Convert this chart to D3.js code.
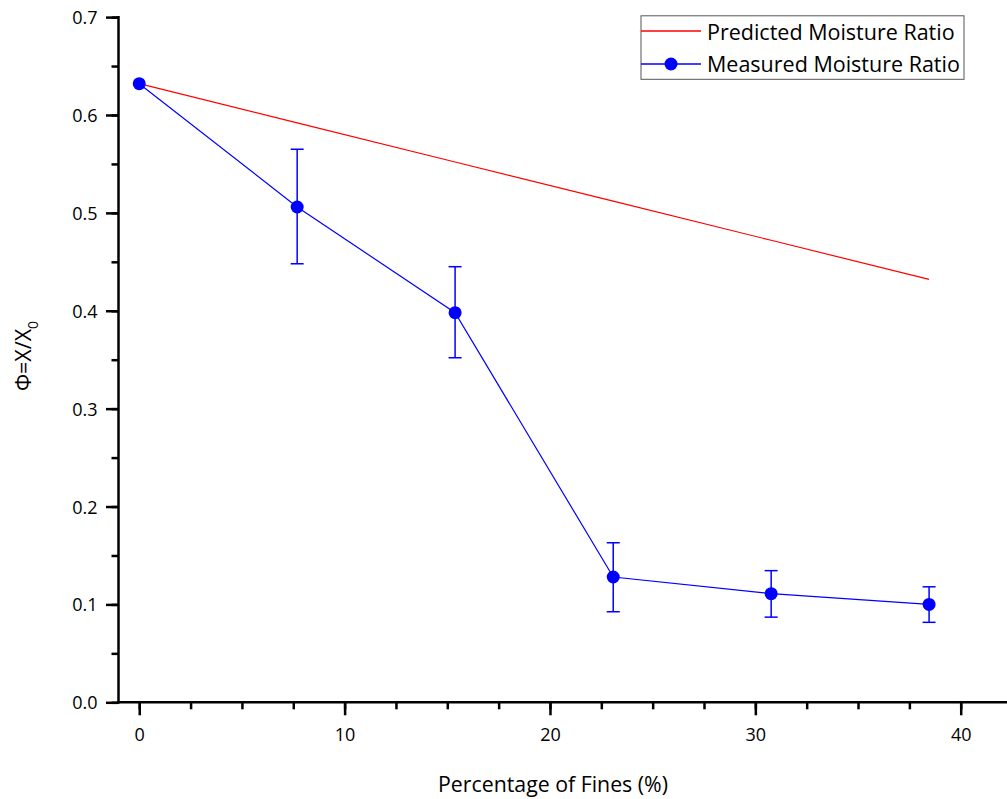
<!DOCTYPE html>
<html>
<head>
<meta charset="utf-8">
<script src="https://cdn.jsdelivr.net/npm/d3@7/dist/d3.min.js"></script>
<style>
  html, body { margin: 0; padding: 0; background: #fff; }
  svg { display: block; font-family: "Open Sans", "Liberation Sans", sans-serif; }
</style>
</head>
<body>
<svg id="chart" width="1007" height="799"></svg>
<script>
// Fines content (%) of each sample
const fines = [0, 7.69, 15.38, 23.08, 30.77, 38.46];
// Predicted moisture ratio (model)
const predicted = [0.632, 0.592, 0.552, 0.512, 0.472, 0.432];
// Measured moisture ratio with error bar limits
const measured = [0.632, 0.506, 0.398, 0.128, 0.111, 0.100];
const errHigh = [0.632, 0.565, 0.445, 0.163, 0.1345, 0.118];
const errLow = [0.632, 0.448, 0.352, 0.0925, 0.087, 0.0817];
// Axis ticks
const xTicks = [0, 10, 20, 30, 40];
const yTicks = [0.0, 0.1, 0.2, 0.3, 0.4, 0.5, 0.6, 0.7];
const seriesNames = ["Predicted Moisture Ratio", "Measured Moisture Ratio"];

const svg = d3.select("#chart");
const plotLeft = 118.5, plotBottom = 702.3, plotTop = 17.1, plotRight = 1010;

const x = d3.scaleLinear().domain([-1.01, 42.4]).range([plotLeft, plotRight]);
const y = d3.scaleLinear().domain([0, 0.7]).range([plotBottom, plotTop]);

const axisColor = "#000";

// X axis: minor ticks every 2.5, labelled majors every 10
const gx = svg.append("g").attr("transform", `translate(0,${plotBottom})`);
gx.call(d3.axisBottom(x).tickValues(d3.range(0, 42.5, 2.5)).tickSize(7).tickFormat(""))
gx.call(g => g.select(".domain").remove());
gx.append("g").call(d3.axisBottom(x).tickValues(xTicks).tickSize(13).tickFormat(d3.format("d")))
  .call(g => g.select(".domain").remove())
  .call(g => g.selectAll("text").attr("dy", null).attr("y", 38.5).attr("font-size", 18).attr("fill", "#000").attr("font-family", "Open Sans"));
gx.selectAll("line").attr("stroke", axisColor).attr("stroke-width", 2.5);
gx.append("line").attr("x1", plotLeft - 1.2).attr("x2", plotRight).attr("y1", 0).attr("y2", 0)
  .attr("stroke", axisColor).attr("stroke-width", 2.5);

// Y axis: minor ticks every 0.05
const gy = svg.append("g").attr("transform", `translate(${plotLeft},0)`);
gy.call(d3.axisLeft(y).tickValues(d3.range(0, 0.701, 0.05)).tickSize(7).tickFormat(""))
  .call(g => g.select(".domain").remove());
gy.append("g").call(d3.axisLeft(y).tickValues(yTicks).tickSize(12.5).tickFormat(d3.format(".1f")))
  .call(g => g.select(".domain").remove())
  .call(g => g.selectAll("text").attr("x", -21).attr("dy", "0.36em").attr("font-size", 18).attr("fill", "#000").attr("font-family", "Open Sans"));
gy.selectAll("line").attr("stroke", axisColor).attr("stroke-width", 2.5);
gy.append("line").attr("x1", 0).attr("x2", 0).attr("y1", y(0.7) - 1.2).attr("y2", plotBottom + 1.2)
  .attr("stroke", axisColor).attr("stroke-width", 2.5);

// Axis titles
svg.append("text").attr("x", 553).attr("y", 792).attr("text-anchor", "middle")
  .attr("font-size", 21.3).attr("fill", "#000").text("Percentage of Fines (%)");

const yt = svg.append("text").attr("transform", "translate(31,356) rotate(-90)")
  .attr("text-anchor", "middle").attr("font-size", 21.5).attr("fill", "#000");
yt.append("tspan").text("Φ=X/X");
yt.append("tspan").attr("font-size", 14).attr("dy", 7).text("0");

// Predicted line
const line = d3.line().x((d, i) => x(fines[i])).y(d => y(d));
svg.append("path").datum(predicted).attr("d", line)
  .attr("fill", "none").attr("stroke", "#ff0000").attr("stroke-width", 1.2);

// Measured line
svg.append("path").datum(measured).attr("d", line)
  .attr("fill", "none").attr("stroke", "#0000ff").attr("stroke-width", 1.2);

// Error bars
const eb = svg.append("g").attr("stroke", "#0000ff").attr("stroke-width", 1.5);
fines.forEach((f, i) => {
  if (errHigh[i] === errLow[i]) return;
  const cx = x(f);
  eb.append("line").attr("x1", cx).attr("x2", cx).attr("y1", y(errHigh[i])).attr("y2", y(errLow[i]));
  eb.append("line").attr("x1", cx - 6.5).attr("x2", cx + 6.5).attr("y1", y(errHigh[i])).attr("y2", y(errHigh[i]));
  eb.append("line").attr("x1", cx - 6.5).attr("x2", cx + 6.5).attr("y1", y(errLow[i])).attr("y2", y(errLow[i]));
});

// Markers
svg.append("g").selectAll("circle").data(measured).join("circle")
  .attr("cx", (d, i) => x(fines[i])).attr("cy", d => y(d)).attr("r", 6.5)
  .attr("fill", "#0000ff");

// Legend
const lg = svg.append("g");
lg.append("rect").attr("x", 641).attr("y", 15.8).attr("width", 323).attr("height", 63.5)
  .attr("fill", "#fff").attr("stroke", "#555").attr("stroke-width", 1);
lg.append("line").attr("x1", 641).attr("x2", 701).attr("y1", 31).attr("y2", 31)
  .attr("stroke", "#ff0000").attr("stroke-width", 1.3);
lg.append("line").attr("x1", 641).attr("x2", 701).attr("y1", 64).attr("y2", 64)
  .attr("stroke", "#0000ff").attr("stroke-width", 1.3);
lg.append("circle").attr("cx", 671).attr("cy", 64).attr("r", 6.5).attr("fill", "#0000ff");
lg.selectAll("text.lbl").data(seriesNames).join("text").attr("class", "lbl")
  .attr("x", 707).attr("y", (d, i) => 39.5 + i * 32.2)
  .attr("font-size", 21.5).attr("fill", "#000").text(d => d);
</script>
</body>
</html>
